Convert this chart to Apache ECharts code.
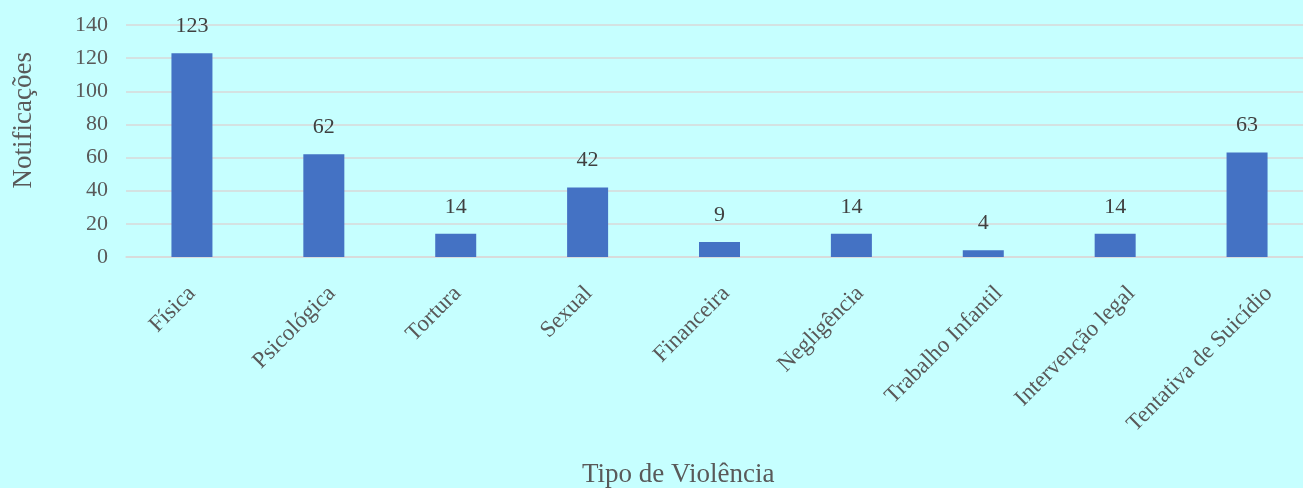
<!DOCTYPE html>
<html>
<head>
<meta charset="utf-8">
<style>
  html, body { margin: 0; padding: 0; background: #c6ffff; }
  #main { width: 1303px; height: 488px; }
</style>
<script src="https://cdn.jsdelivr.net/npm/echarts@6/dist/echarts.min.js"></script>
</head>
<body>
<div id="main"></div>
<script>
// tipos de violência e número de notificações
const categories = ["Física", "Psicológica", "Tortura", "Sexual", "Financeira",
  "Negligência", "Trabalho Infantil", "Intervenção legal", "Tentativa de Suicídio"];
const notificacoes = [123, 62, 14, 42, 9, 14, 4, 14, 63];
const yTicks = [0, 20, 40, 60, 80, 100, 120, 140];

const font = "'Liberation Serif', 'Times New Roman', serif";
const textColor = "#595959";
const catFont = "23px " + font;

// largura do texto, para deslocar os rótulos inclinados como no Excel
const ctx = document.createElement("canvas").getContext("2d");
ctx.font = catFont;
function textWidth(s) { return ctx.measureText(s).width; }

const chart = echarts.init(document.getElementById("main"));
chart.setOption({
  backgroundColor: "#c6ffff",
  animation: false,
  textStyle: { fontFamily: font },
  grid: { left: 126, top: 25, width: 1187, height: 232, outerBoundsMode: "none" },
  xAxis: {
    type: "category",
    data: categories,
    axisLine: { lineStyle: { color: "#d9d9d9", width: 1.5 } },
    axisTick: { show: false },
    axisLabel: { show: false }
  },
  yAxis: {
    type: "value",
    min: yTicks[0],
    max: yTicks[yTicks.length - 1],
    interval: 20,
    axisLine: { show: false },
    axisTick: { show: false },
    splitLine: { lineStyle: { color: "#d9d9d9", width: 1.5 } },
    axisLabel: { color: textColor, fontSize: 22, fontFamily: font, margin: 18 }
  },
  graphic: [{
    type: "text",
    left: 10,
    top: 52,
    rotation: Math.PI / 2,
    style: { text: "Notificações", fill: textColor, font: "27px " + font }
  }, {
    type: "text",
    left: 582,
    top: 461,
    style: { text: "Tipo de Violência", fill: textColor, font: "27px " + font }
  }],
  series: [{
    type: "bar",
    data: notificacoes,
    barWidth: 41,
    itemStyle: { color: "#4472c4" },
    label: {
      show: true,
      position: "top",
      distance: 16,
      color: "#404040",
      fontSize: 22,
      fontFamily: font
    }
  }, {
    // rótulos das categorias, inclinados 45°
    type: "custom",
    clip: false,
    silent: true,
    data: categories.map((c, i) => [i, 0]),
    renderItem: function (params, api) {
      const i = api.value(0);
      const p = api.coord([i, 0]);
      const name = categories[i];
      const w = textWidth(name);
      return {
        type: "text",
        x: p[0] + 0.156 * (w - 42) - 2,
        y: p[1] + 33,
        rotation: Math.PI / 4,
        style: {
          text: name,
          font: catFont,
          fill: textColor,
          align: "right",
          verticalAlign: "middle"
        }
      };
    }
  }]
});
</script>
</body>
</html>
